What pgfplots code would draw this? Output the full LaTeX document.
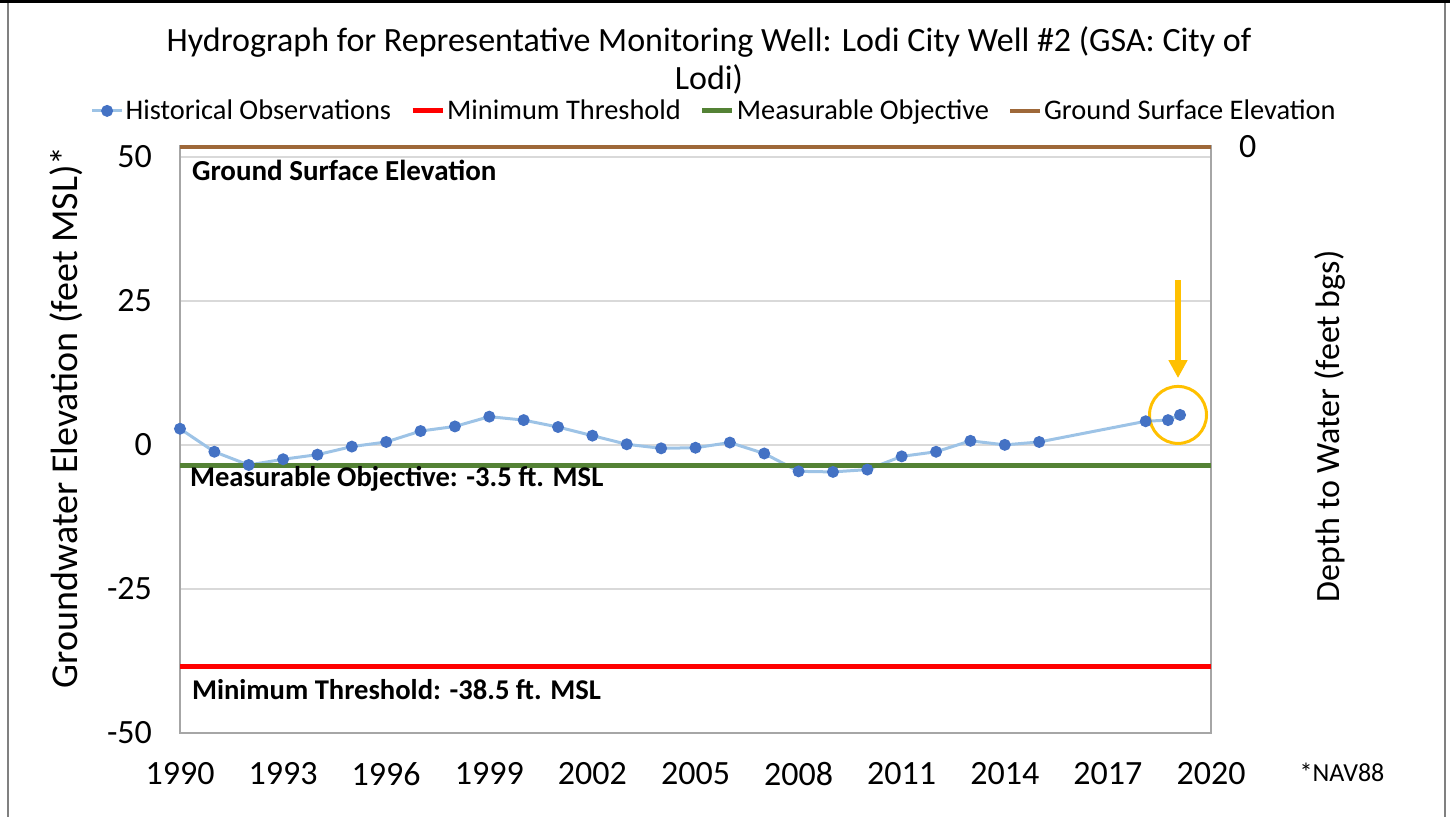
\documentclass[border=0pt]{standalone}
\usepackage{fontspec}
\setmainfont{Carlito}
\usepackage{pgfplots}
\usepackage{pgfplotstable}
\pgfplotsset{compat=1.18}
\usetikzlibrary{arrows.meta}

\definecolor{obsline}{RGB}{157,195,230}
\definecolor{obsmark}{RGB}{68,114,196}
\definecolor{mtred}{RGB}{255,0,0}
\definecolor{mogreen}{RGB}{84,130,53}
\definecolor{gsbrown}{RGB}{158,104,57}
\definecolor{gridgray}{RGB}{217,217,217}
\definecolor{axgray}{RGB}{166,166,166}
\definecolor{hilite}{RGB}{255,192,0}

% historical observations, feet MSL
\pgfplotstableread{
year elev
1990 2.8
1991 -1.2
1992 -3.5
1993 -2.5
1994 -1.7
1995 -0.3
1996 0.5
1997 2.4
1998 3.2
1999 4.9
2000 4.3
2001 3.1
2002 1.6
2003 0.1
2004 -0.6
2005 -0.5
2006 0.4
2007 -1.5
2008 -4.6
2009 -4.7
2010 -4.3
2011 -2.0
2012 -1.2
2013 0.7
2014 0.0
2015 0.5
2018.1 4.1
2018.75 4.3
2019.1 5.2
}\obs

\begin{document}
\begin{tikzpicture}
\useasboundingbox (0,0) rectangle (725pt,408.5pt);
% frame
\draw[black,line width=1.5pt] (0,407.5pt) -- (725pt,407.5pt);
\draw[gray,line width=0.8pt] (4pt,0) -- (4pt,406.8pt);
\draw[gray,line width=1.2pt] (722.5pt,0) -- (722.5pt,406.8pt);

\node[font=\fontsize{17}{19}\selectfont,align=center] at (354.5pt,378.5pt)
  {Hydrograph for Representative Monitoring Well: Lodi City Well \#2 (GSA: City of\\Lodi)};

\node[font=\fontsize{13}{15}\selectfont] at (671pt,22.5pt) {*NAV88};

\begin{axis}[
  at={(90pt,42.15pt)}, anchor=south west,
  width=515.5pt, height=293.3pt, scale only axis,
  xmin=1990, xmax=2020, ymin=-50, ymax=51.9,
  xtick={1990,1993,...,2020},
  ytick={-50,-25,0,25,50},
  ymajorgrids,
  grid style={gridgray,line width=0.8pt},
  axis line style={axgray,line width=1pt},
  tick style={draw=none},
  clip=false,
  /pgf/number format/assume math mode=true,
  /pgf/number format/1000 sep={},
  ticklabel style={font=\fontsize{17}{20}\selectfont},
  xticklabel style={yshift=-11.5pt},
  yticklabel style={xshift=-10.5pt},
  ylabel={Groundwater Elevation (feet MSL)*},
  every axis y label/.style={at={(axis description cs:-0.1106,0.538)},rotate=90,anchor=center,font=\fontsize{19}{21}\selectfont},
  legend columns=4,
  legend style={at={(axis description cs:0.519,1.06)},anchor=center,draw=none,fill=none,
    font=\fontsize{14.2}{16}\selectfont,
    /tikz/every odd column/.append style={column sep=-1pt},
    /tikz/every even column/.append style={column sep=7.5pt}},
  legend image code/.code={\draw[mark repeat=2,mark phase=2,#1] plot coordinates {(0pt,0pt) (7.5pt,0pt) (15pt,0pt)};},
]
\addplot[obsline,line width=1.5pt,mark=*,mark size=2.2pt,mark options={draw=obsmark,fill=obsmark}] table[x=year,y=elev] {\obs};
\addlegendentry{Historical Observations}
\addplot[mtred,line width=2.5pt] coordinates {(1990,-38.5) (2020,-38.5)};
\addlegendentry{Minimum Threshold}
\addplot[mogreen,line width=2.5pt] coordinates {(1990,-3.5) (2020,-3.5)};
\addlegendentry{Measurable Objective}
\addplot[gsbrown,line width=2pt] coordinates {(1990,51.7) (2020,51.7)};
\addlegendentry{Ground Surface Elevation}

\node[anchor=west,font=\bfseries\fontsize{14.5}{16}\selectfont] at (axis cs:1990,47.7) [xshift=2.5pt] {Ground Surface Elevation};
\node[anchor=west,font=\bfseries\fontsize{14.3}{16}\selectfont] at (axis cs:1990,-5.9) [xshift=1.5pt] {Measurable Objective: -3.5 ft. MSL};
\node[anchor=west,font=\bfseries\fontsize{14.3}{16}\selectfont] at (axis cs:1990,-42.5) [xshift=2.5pt] {Minimum Threshold: -38.5 ft. MSL};

\draw[hilite,line width=1.5pt] (axis cs:2019.04,5.2) circle[radius=14.25pt];
\draw[hilite,line width=3pt,-{Triangle[width=9pt,length=9pt]}] (axis cs:2019.04,28.6) -- (axis cs:2019.04,11.6);
\end{axis}

\begin{axis}[
  at={(90pt,42.15pt)}, anchor=south west,
  width=515.5pt, height=293.3pt, scale only axis,
  xmin=1990, xmax=2020, ymin=0, ymax=101.9, y dir=reverse,
  axis x line=none, axis y line*=right,
  axis line style={draw=none},
  tick style={draw=none},
  ytick={0},
  /pgf/number format/assume math mode=true,
  ticklabel style={font=\fontsize{17}{20}\selectfont},
  yticklabel style={xshift=10.5pt},
  ylabel={Depth to Water (feet bgs)},
  every axis y label/.style={at={(axis description cs:1.1154,0.522)},rotate=90,anchor=center,font=\fontsize{17}{20}\selectfont},
]
\end{axis}
\end{tikzpicture}
\end{document}
